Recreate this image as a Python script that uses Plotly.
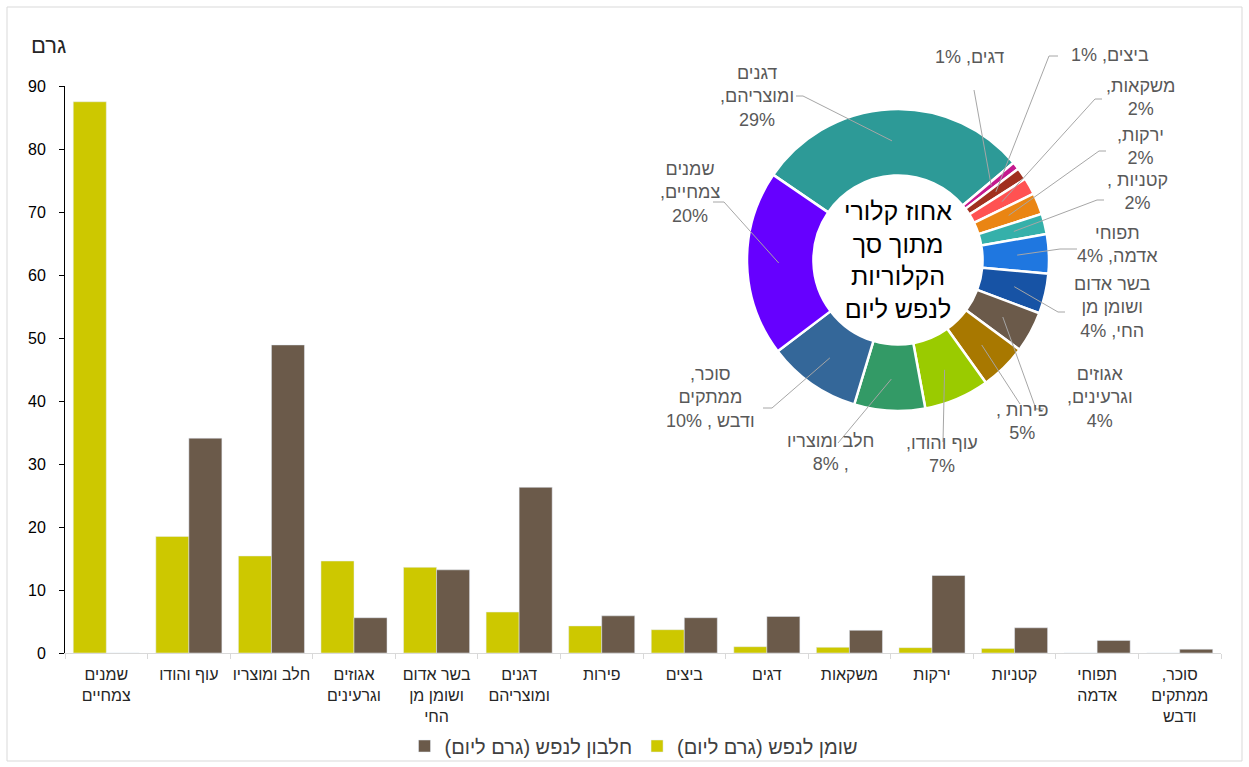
import math
import plotly.graph_objects as go

# ---------------- data ----------------
categories = ["שמנים<br>צמחיים", "עוף והודו", "חלב ומוצריו", "אגוזים<br>וגרעינים",
              "בשר אדום<br>ושומן מן<br>החי", "דגנים<br>ומוצריהם", "פירות", "ביצים", "דגים",
              "משקאות", "ירקות", "קטניות", "תפוחי<br>אדמה", "סוכר,<br>ממתקים<br>ודבש"]
fat = [87.5, 18.5, 15.4, 14.6, 13.6, 6.5, 4.3, 3.7, 1.0, 0.9, 0.85, 0.7, 0.0, 0.0]
protein = [0.0, 34.1, 48.9, 5.6, 13.2, 26.3, 5.9, 5.6, 5.8, 3.6, 12.3, 4.0, 2.0, 0.6]
fat_name = "שומן לנפש (גרם ליום)"
protein_name = "חלבון לנפש (גרם ליום)"
y_ticks = [0, 10, 20, 30, 40, 50, 60, 70, 80, 90]
y_title = "גרם"

pie_names = ["דגנים ומוצריהם", "דגים", "ביצים", "משקאות", "ירקות", "קטניות", "תפוחי אדמה",
             "בשר אדום ושומן מן החי", "אגוזים וגרעינים", "פירות", "עוף והודו", "חלב ומוצריו",
             "סוכר, ממתקים ודבש", "שמנים צמחיים"]
pie_pct = [29.4, 0.8, 1.3, 1.8, 2.3, 2.2, 4.2, 4.3, 4.4, 5.0, 7.0, 7.6, 10.0, 19.9]
pie_label_tpl = ["דגנים<br>ומוצריהם,<br>{p}%", "דגים, {p}%", "ביצים, {p}%", "משקאות,<br>{p}%",
                 "ירקות,<br>{p}%", "קטניות ,<br>{p}%", "תפוחי<br>אדמה, {p}%",
                 "בשר אדום<br>ושומן מן<br>החי, {p}%", "אגוזים<br>וגרעינים,<br>{p}%",
                 "פירות ,<br>{p}%", "עוף והודו,<br>{p}%", "חלב ומוצריו<br>, {p}%",
                 "סוכר,<br>ממתקים<br>ודבש , {p}%", "שמנים<br>צמחיים,<br>{p}%"]
pie_center_text = "אחוז קלורי<br>מתוך סך<br>הקלוריות<br>לנפש ליום"

# ---------------- styles / layout ----------------
FONT = "Liberation Sans, Arial, sans-serif"
FAT_COLOR = "#cdc800"
PROT_COLOR = "#6b5a4a"
pie_colors = ["#2d9a97", "#c41a8e", "#a0301f", "#ff5252", "#ea8513", "#35b0aa", "#1f77e0",
              "#1753a5", "#6b5a4a", "#a87800", "#9acb00", "#339a66", "#346799", "#6600ff"]

W, H = 1249, 767
ML, MR, MT, MB = 65, 28, 86, 114
PW, PH = W - ML - MR, H - MT - MB
BOTTOM = MT + PH

# pie geometry (pixels)
PCX, PCY, PR = 898, 260, 151
HOLE = 0.56
ROT = -55.7
LEAD_R = 0.79

# label layout: text centre (px), leader elbow (px), end x of horizontal tail
label_pos = [(757, 96), (970, 57), (1110, 55), (1140, 97), (1140, 146), (1137, 191),
             (1117, 244), (1112, 307), (1100, 397), (1022, 421), (942, 454), (830, 452),
             (710, 397), (690, 192)]
elbows = [(803, 96), (974, 90), (1049, 56), (1095, 99), (1099, 151), (1097, 200),
          (1060, 249), (1058, 312), (1036, 409), (1020, 404), (943, 442), (838, 443),
          (772, 408), (724, 202)]
tails = [796, 974, 1058, 1102, 1106, 1104, 1077, 1065, 1044, 1020, 943, 838, 763, 713]


def rtl(s):
    return "<br>".join("\u200f" + ln + "\u200f" for ln in s.split("<br>"))


def px_x(x):
    return (x - ML) / PW


def px_y(y):
    return (BOTTOM - y) / PH


fig = go.Figure()
fig.add_trace(go.Bar(x=[rtl(c) for c in categories], y=fat, name=rtl(fat_name),
                     marker=dict(color=FAT_COLOR), hoverinfo="skip"))
fig.add_trace(go.Bar(x=[rtl(c) for c in categories], y=protein, name=rtl(protein_name),
                     marker=dict(color=PROT_COLOR), hoverinfo="skip"))

fig.add_trace(go.Pie(
    values=pie_pct, labels=pie_names, sort=False, direction="clockwise", rotation=ROT,
    hole=HOLE, textinfo="none", hoverinfo="skip", showlegend=False,
    marker=dict(colors=pie_colors, line=dict(color="white", width=2.5)),
    domain=dict(x=[px_x(PCX - PR), px_x(PCX + PR)], y=[px_y(PCY + PR), px_y(PCY - PR)]),
))

annotations = []
shapes = []
total = sum(pie_pct)
cum = 0.0
for i, v in enumerate(pie_pct):
    mid = math.radians(ROT + (cum + v / 2) / total * 360)
    cum += v
    sx = PCX + LEAD_R * PR * math.sin(mid)
    sy = PCY - LEAD_R * PR * math.cos(mid)
    ex, ey = elbows[i]
    tx = tails[i]
    path = f"M {px_x(sx)},{px_y(sy)} L {px_x(ex)},{px_y(ey)} L {px_x(tx)},{px_y(ey)}"
    shapes.append(dict(type="path", path=path, xref="paper", yref="paper", layer="above",
                       line=dict(color="#a6a6a6", width=1)))
    lx, ly = label_pos[i]
    annotations.append(dict(
        text=rtl(pie_label_tpl[i].format(p=round(v))), x=px_x(lx), y=px_y(ly),
        xref="paper", yref="paper", showarrow=False, align="center",
        xanchor="center", yanchor="middle",
        font=dict(family=FONT, size=18, color="#595959")))

annotations.append(dict(text=rtl(pie_center_text), x=px_x(PCX), y=px_y(PCY),
                        xref="paper", yref="paper", showarrow=False, align="center",
                        xanchor="center", yanchor="middle",
                        font=dict(family=FONT, size=25, color="#000000")))
annotations.append(dict(text=rtl(y_title), x=px_x(48), y=px_y(45), xref="paper", yref="paper",
                        showarrow=False, xanchor="center", yanchor="middle",
                        font=dict(family=FONT, size=22, color="#262626")))

# chart border
shapes.append(dict(type="rect", xref="paper", yref="paper", layer="below",
                   x0=px_x(7), x1=px_x(1242), y0=px_y(761), y1=px_y(7),
                   line=dict(color="#d9d9d9", width=1)))

fig.update_layout(
    width=W, height=H,
    margin=dict(l=ML, r=MR, t=MT, b=MB, autoexpand=False),
    paper_bgcolor="white", plot_bgcolor="white",
    barmode="group", bargap=0.2, bargroupgap=0.0,
    font=dict(family=FONT, size=16, color="#262626"),
    showlegend=True,
    legend=dict(orientation="h", traceorder="reversed", x=px_x(634), xanchor="center",
                y=px_y(746), yanchor="middle", font=dict(family=FONT, size=20, color="#404040"),
                bgcolor="rgba(0,0,0,0)"),
    annotations=annotations,
    shapes=shapes,
    xaxis=dict(showline=True, linecolor="#d9d9d9", linewidth=1, ticks="outside",
               tickson="boundaries", ticklen=5, tickcolor="#d9d9d9", showgrid=False,
               tickangle=0, ticklabelstandoff=7,
               tickfont=dict(family=FONT, size=16, color="#262626"), fixedrange=True),
    yaxis=dict(range=[0, 90], tickvals=y_ticks, showline=True, linecolor="#000000",
               linewidth=1, ticks="outside", ticklen=5, tickcolor="#000000", showgrid=False,
               zeroline=False, ticklabelstandoff=10,
               tickfont=dict(family=FONT, size=16, color="#000000"),
               fixedrange=True),
)

fig.write_html("out.html", post_script="document.body.style.margin='0px';",
               config={"displayModeBar": False})
